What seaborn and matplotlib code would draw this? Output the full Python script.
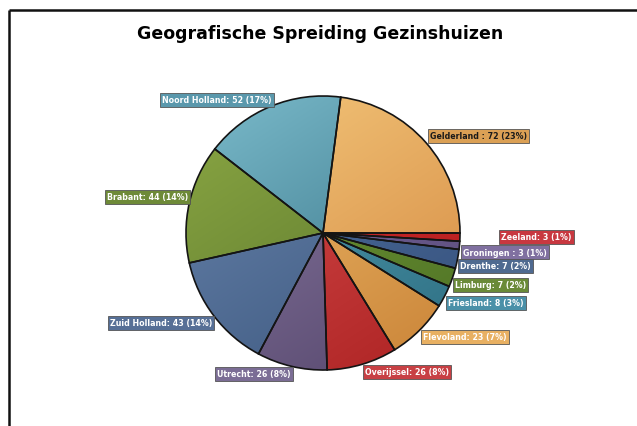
import numpy as np
import matplotlib
matplotlib.use("Agg")
import matplotlib.pyplot as plt
import matplotlib.colors as mcolors
import seaborn as sns

# ---- data ----
provinces = ["Gelderland ", "Noord Holland", "Brabant", "Zuid Holland", "Utrecht",
             "Overijssel", "Flevoland", "Friesland", "Limburg", "Drenthe",
             "Groningen ", "Zeeland"]
counts = [72, 52, 44, 43, 26, 26, 23, 8, 7, 7, 3, 3]
light_colors = ["#f5ca7e", "#7cbccc", "#8ca844", "#6a86ae", "#8e7ea6", "#dc5252",
                "#f2c272", "#58a6ba", "#74a03a", "#5474a2", "#8070a4", "#d83030"]
dark_colors = ["#d48840", "#2f6a7e", "#56722a", "#3a557c", "#55466c", "#ac2222",
               "#c98236", "#2c6c80", "#4e7024", "#34507c", "#574878", "#b01c1c"]
box_colors = ["#dba055", "#5a98ac", "#6e8a38", "#566f96", "#7b6d95", "#c84044",
              "#e8b062", "#4a90a8", "#6a8a38", "#4f6a90", "#8070a0", "#c83840"]
text_colors = ["#1a1a1a"] + ["white"] * 11
title = "Geografische Spreiding Gezinshuizen"

# ---- layout (pixel positions of label boxes: left x, centre y) ----
W, H = 637, 427
CX, CY, R = 323, 234, 137
label_pos = [(430, 137), (162, 101), (107, 198), (110, 324), (217, 375),
             (365, 373), (423, 338), (448, 304), (455, 286), (460, 267),
             (463, 253), (501, 238)]

sns.set_theme(style="white")
plt.rcParams["font.family"] = ["DejaVu Sans"]

fig = plt.figure(figsize=(W / 100, H / 100), dpi=100)
ax = fig.add_axes([0, 0, 1, 1])

wedges, _ = ax.pie(counts, startangle=0, counterclock=True, radius=R,
                   center=(CX, H - CY), frame=True,
                   wedgeprops=dict(facecolor="none", edgecolor="#141414",
                                   linewidth=1.2, zorder=3))
ax.set_xlim(0, W)
ax.set_ylim(0, H)
ax.set_aspect("equal")
ax.set_axis_off()

# gradient fill clipped to every wedge (light top-left -> dark bottom-right)
n = 300
xs = np.linspace(-1, 1, n)
X, Y = np.meshgrid(xs, xs)
u = (0.55 * X + 0.85 * Y) / 1.4
t = np.clip((u + 1) / 2, 0, 1)[..., None]
for w, lc, dc in zip(wedges, light_colors, dark_colors):
    a = np.array(mcolors.to_rgb(lc))
    b = np.array(mcolors.to_rgb(dc))
    img = a * (1 - t) + b * t
    im = ax.imshow(img, extent=(CX - R, CX + R, H - CY - R, H - CY + R),
                   origin="upper", zorder=2, interpolation="bilinear")
    im.set_clip_path(w)

total = sum(counts)
for name, v, (lx, ly), bc, tc in zip(provinces, counts, label_pos, box_colors, text_colors):
    pct = round(v / total * 100)
    ax.text(lx, H - ly, f"{name}: {v} ({pct}%)", ha="left", va="center",
            fontsize=5.7, fontweight="bold", color=tc, zorder=5,
            bbox=dict(boxstyle="square,pad=0.28", facecolor=bc,
                      edgecolor="#555555", linewidth=0.6))

ax.text(W / 2 + 2, H - 34, title, ha="center", va="center",
        fontsize=12.5, fontweight="bold", color="black")

# frame lines top and left
ax.plot([9, W], [H - 11, H - 11], color="#111111", lw=1.8, solid_capstyle="butt", zorder=6)
ax.plot([9, 9], [0, H - 11], color="#111111", lw=1.8, solid_capstyle="butt", zorder=6)

fig.savefig("out.png", dpi=100)
